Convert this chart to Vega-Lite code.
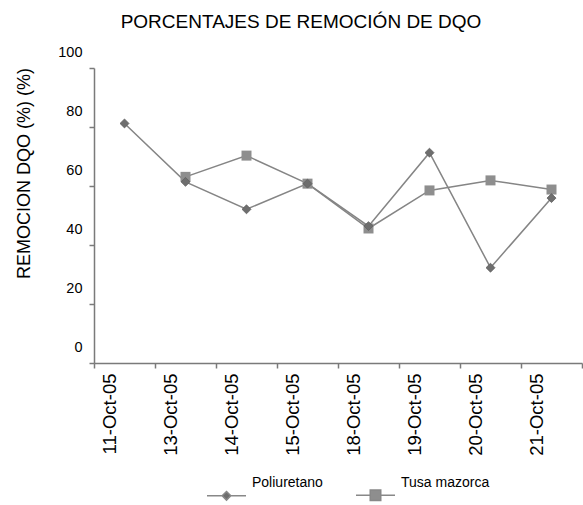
{
  "$schema": "https://vega.github.io/schema/vega-lite/v6.json",
  "width": 488,
  "height": 295,
  "autosize": "none",
  "padding": {"left": 94, "top": 68, "right": 1, "bottom": 142},
  "background": "white",
  "title": {
    "text": "PORCENTAJES DE REMOCIÓN DE DQO",
    "font": "Liberation Sans",
    "fontSize": 19,
    "fontWeight": "normal",
    "color": "#000000",
    "anchor": "middle",
    "frame": "group",
    "baseline": "alphabetic",
    "dx": -37,
    "dy": 21,
    "offset": 18
  },
  "data": {
    "values": [
      {"fecha": "11-Oct-05", "serie": "Poliuretano", "remocion": 81.2},
      {"fecha": "13-Oct-05", "serie": "Poliuretano", "remocion": 61.4},
      {"fecha": "14-Oct-05", "serie": "Poliuretano", "remocion": 52.1},
      {"fecha": "15-Oct-05", "serie": "Poliuretano", "remocion": 60.8},
      {"fecha": "18-Oct-05", "serie": "Poliuretano", "remocion": 46.4},
      {"fecha": "19-Oct-05", "serie": "Poliuretano", "remocion": 71.3},
      {"fecha": "20-Oct-05", "serie": "Poliuretano", "remocion": 32.3},
      {"fecha": "21-Oct-05", "serie": "Poliuretano", "remocion": 55.9},
      {"fecha": "13-Oct-05", "serie": "Tusa mazorca", "remocion": 63.1},
      {"fecha": "14-Oct-05", "serie": "Tusa mazorca", "remocion": 70.3},
      {"fecha": "15-Oct-05", "serie": "Tusa mazorca", "remocion": 60.8},
      {"fecha": "18-Oct-05", "serie": "Tusa mazorca", "remocion": 45.6},
      {"fecha": "19-Oct-05", "serie": "Tusa mazorca", "remocion": 58.5},
      {"fecha": "20-Oct-05", "serie": "Tusa mazorca", "remocion": 61.9},
      {"fecha": "21-Oct-05", "serie": "Tusa mazorca", "remocion": 58.8}
    ]
  },
  "encoding": {
    "x": {
      "field": "fecha",
      "type": "nominal",
      "sort": ["11-Oct-05", "13-Oct-05", "14-Oct-05", "15-Oct-05", "18-Oct-05", "19-Oct-05", "20-Oct-05", "21-Oct-05"],
      "scale": {"type": "band", "paddingInner": 0, "paddingOuter": 0},
      "axis": {
        "title": null,
        "labelAngle": 270,
        "labelFont": "Liberation Sans",
        "labelFontSize": 18.5,
        "labelColor": "#000000",
        "labelPadding": 5,
        "labelOffset": -15,
        "tickBand": "extent",
        "tickSize": 5,
        "tickColor": "#7a7a7a",
        "tickWidth": 1.5,
        "domainColor": "#7a7a7a",
        "domainWidth": 1.5,
        "grid": false
      }
    },
    "y": {
      "field": "remocion",
      "type": "quantitative",
      "scale": {"domain": [0, 100], "nice": false, "zero": true},
      "axis": {
        "title": "REMOCION DQO (%) (%)",
        "titleFont": "Liberation Sans",
        "titleFontSize": 18,
        "titleFontWeight": "normal",
        "titleColor": "#000000",
        "titleAngle": -90,
        "titleAlign": "center",
        "titleBaseline": "middle",
        "titleX": -70,
        "titleY": 105,
        "values": [0, 20, 40, 60, 80, 100],
        "labelFont": "Liberation Sans",
        "labelFontSize": 14.5,
        "labelColor": "#000000",
        "labelPadding": 7,
        "labelOffset": -16,
        "tickSize": 5,
        "tickColor": "#7a7a7a",
        "tickWidth": 1.5,
        "domainColor": "#7a7a7a",
        "domainWidth": 1.5,
        "grid": false
      }
    }
  },
  "layer": [
    {
      "mark": {"type": "line", "color": "#858585", "strokeWidth": 1.5},
      "encoding": {"detail": {"field": "serie"}}
    },
    {
      "transform": [{"filter": "datum.serie === 'Tusa mazorca'"}],
      "mark": {"type": "point", "shape": "square", "filled": true, "color": "#8e8e8e", "opacity": 1, "size": 100}
    },
    {
      "transform": [{"filter": "datum.serie === 'Poliuretano'"}],
      "mark": {"type": "point", "shape": "diamond", "filled": true, "color": "#6e6e6e", "stroke": "#5e5e5e", "strokeWidth": 0.8, "opacity": 1, "size": 80}
    },
    {
      "transform": [{"filter": "false"}],
      "mark": {"type": "point", "filled": true, "opacity": 1, "stroke": "#888888", "strokeWidth": 1.5},
      "encoding": {
        "shape": {
          "field": "serie",
          "type": "nominal",
          "scale": {
            "domain": ["Poliuretano", "Tusa mazorca"],
            "range": [
              "M-1,0.28H-0.22M0.22,0.28H1M0,0.06L0.22,0.28L0,0.5L-0.22,0.28Z",
              "M-1,0.28H-0.27M0.27,0.28H1M-0.27,0.01H0.27V0.55H-0.27Z"
            ]
          },
          "legend": {
            "title": null,
            "orient": "none",
            "direction": "horizontal",
            "legendX": 112,
            "legendY": 401,
            "padding": 0,
            "symbolSize": 1521,
            "symbolStrokeWidth": 1.5,
            "labelFont": "Liberation Sans",
            "labelFontSize": 14,
            "labelColor": "#000000",
            "labelBaseline": "bottom",
            "labelOffset": 5,
            "columnPadding": 30
          }
        },
        "color": {
          "field": "serie",
          "type": "nominal",
          "scale": {"domain": ["Poliuretano", "Tusa mazorca"], "range": ["#6e6e6e", "#8e8e8e"]},
          "legend": {
            "title": null,
            "orient": "none",
            "direction": "horizontal",
            "legendX": 112,
            "legendY": 401,
            "padding": 0,
            "symbolSize": 1521,
            "symbolStrokeWidth": 1.5,
            "labelFont": "Liberation Sans",
            "labelFontSize": 14,
            "labelColor": "#000000",
            "labelBaseline": "bottom",
            "labelOffset": 5,
            "columnPadding": 30
          }
        }
      }
    }
  ],
  "config": {
    "view": {"stroke": null},
    "font": "Liberation Sans"
  }
}
